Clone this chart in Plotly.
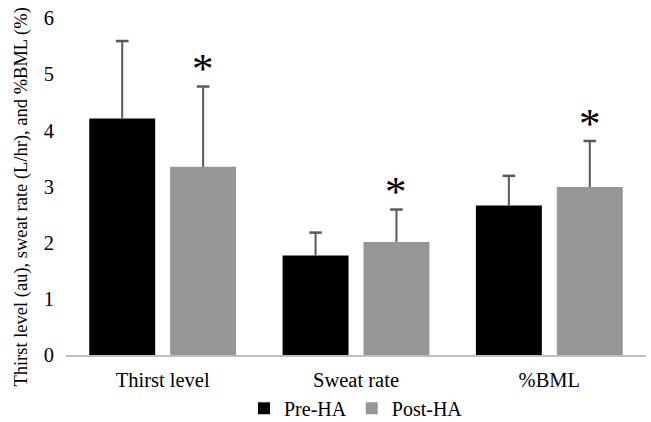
import plotly.graph_objects as go

categories = ["Thirst level", "Sweat rate", "%BML"]
pre_ha = [4.21, 1.77, 2.66]
pre_ha_sd = [1.38, 0.41, 0.53]
post_ha = [3.35, 2.01, 2.99]
post_ha_sd = [1.43, 0.58, 0.82]
significant = [True, True, True]  # asterisks on Post-HA bars
y_ticks = [0, 1, 2, 3, 4, 5, 6]
y_title = "Thirst level (au), sweat rate (L/hr), and %BML (%)"

FONT = "Liberation Serif, Times New Roman, serif"
ERR = "#595959"

fig = go.Figure()
for name, vals, sds, col in [("Pre-HA", pre_ha, pre_ha_sd, "#000000"),
                             ("Post-HA", post_ha, post_ha_sd, "#969696")]:
    fig.add_trace(go.Bar(
        name=name, x=categories, y=vals, marker_color=col, marker_line_width=0,
        offsetgroup=name,
        error_y=dict(type="data", array=sds, arrayminus=[0]*len(sds), symmetric=False,
                     color=ERR, thickness=2, width=0),
    ))
for name, vals, sds in [("Pre-HA", pre_ha, pre_ha_sd), ("Post-HA", post_ha, post_ha_sd)]:
    fig.add_trace(go.Scatter(
        x=categories, y=[v + s for v, s in zip(vals, sds)], mode="markers",
        offsetgroup=name, showlegend=False, hoverinfo="skip",
        marker=dict(symbol="line-ew-open", size=9, color=ERR, line=dict(color=ERR, width=2.5)),
    ))

# asterisks above the Post-HA error bars
plot_w = 651 - 66 - 5
cat_w = plot_w / len(categories)
bargap, bargroupgap = 0.163, 0.185
slot = cat_w * (1 - bargap) / 2
for i, (v, s, sig) in enumerate(zip(post_ha, post_ha_sd, significant)):
    if sig:
        fig.add_annotation(
            x=categories[i], y=v + s, xref="x", yref="y", text="*", showarrow=False,
            xshift=slot / 2, yshift=18, yanchor="middle",
            font=dict(family=FONT, size=43, color="#000000"),
        )

# y-axis title as a rotated annotation
fig.add_annotation(
    x=0, y=0.467, xref="paper", yref="paper", text=y_title, showarrow=False,
    textangle=-90, xanchor="center", yanchor="middle", xshift=-44,
    font=dict(family=FONT, size=18.5, color="#000000"),
)

fig.update_layout(
    width=651, height=422,
    margin=dict(l=66, r=5, t=18, b=67, autoexpand=False),
    paper_bgcolor="white", plot_bgcolor="white",
    barmode="group", scattermode="group", bargap=bargap, bargroupgap=bargroupgap,
    font=dict(family=FONT, color="#000000"),
    showlegend=True,
    legend=dict(orientation="h", x=0.5, xanchor="center", y=-0.1, yanchor="top",
                font=dict(family=FONT, size=20), itemwidth=30,
                traceorder="normal"),
    xaxis=dict(showline=True, linecolor="#bfbfbf", linewidth=1.5, ticks="",
               tickfont=dict(family=FONT, size=20.5), automargin=False,
               ticklabelstandoff=6),
    yaxis=dict(range=[0, 6], tickvals=y_ticks, showgrid=False, zeroline=False,
               showline=False, ticks="", tickfont=dict(family=FONT, size=20.5),
               automargin=False, ticklabelstandoff=11),
)

fig.write_html("out.html", config={"displayModeBar": False},
               post_script="document.body.style.margin='0';document.body.style.overflow='hidden';")
